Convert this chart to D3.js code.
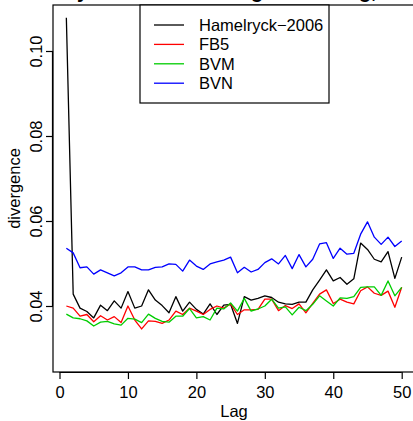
<!DOCTYPE html>
<html>
<head>
<meta charset="utf-8">
<script src="https://cdn.jsdelivr.net/npm/d3@7"></script>
<style>
body { margin: 0; background: #fff; }
svg { display: block; }
text { font-family: "Liberation Sans", Arial, Helvetica, sans-serif; }
</style>
</head>
<body>
<div id="chart"></div>
<script>
var lags = d3.range(1, 51);

var hamelryck = [0.1078, 0.0428, 0.0395, 0.0387, 0.0372, 0.0402, 0.0389, 0.0412, 0.0395, 0.0434,
    0.0395, 0.0400, 0.0438, 0.0414, 0.0401, 0.0384, 0.0422, 0.0388, 0.0409, 0.0392,
    0.0381, 0.0405, 0.0380, 0.0402, 0.0404, 0.0359, 0.0422, 0.0414, 0.0418, 0.0424,
    0.0420, 0.0409, 0.0405, 0.0404, 0.0409, 0.0409, 0.0438, 0.0461, 0.0485, 0.0459,
    0.0467, 0.0451, 0.0464, 0.0548, 0.0533, 0.0510, 0.0504, 0.0528, 0.0465, 0.0515];
var fb5 = [0.0400, 0.0395, 0.0376, 0.0380, 0.0363, 0.0377, 0.0367, 0.0375, 0.0361, 0.0400,
    0.0367, 0.0346, 0.0365, 0.0364, 0.0359, 0.0367, 0.0388, 0.0380, 0.0395, 0.0388,
    0.0380, 0.0392, 0.0400, 0.0395, 0.0405, 0.0380, 0.0391, 0.0391, 0.0392, 0.0416,
    0.0416, 0.0389, 0.0401, 0.0394, 0.0405, 0.0384, 0.0406, 0.0428, 0.0438, 0.0406,
    0.0416, 0.0409, 0.0405, 0.0436, 0.0445, 0.0430, 0.0425, 0.0435, 0.0397, 0.0444];
var bvm = [0.0381, 0.0372, 0.0370, 0.0365, 0.0353, 0.0362, 0.0364, 0.0358, 0.0355, 0.0371,
    0.0369, 0.0361, 0.0381, 0.0371, 0.0364, 0.0362, 0.0376, 0.0376, 0.0394, 0.0372,
    0.0375, 0.0367, 0.0395, 0.0393, 0.0407, 0.0388, 0.0418, 0.0388, 0.0393, 0.0400,
    0.0416, 0.0395, 0.0398, 0.0379, 0.0397, 0.0389, 0.0404, 0.0424, 0.0412, 0.0400,
    0.0419, 0.0418, 0.0422, 0.0444, 0.0445, 0.0445, 0.0425, 0.0459, 0.0424, 0.0444];
var bvn = [0.0536, 0.0525, 0.0490, 0.0492, 0.0475, 0.0485, 0.0478, 0.0471, 0.0478, 0.0492,
    0.0492, 0.0485, 0.0485, 0.0491, 0.0492, 0.0499, 0.0498, 0.0482, 0.0508, 0.0494,
    0.0486, 0.0499, 0.0504, 0.0508, 0.0515, 0.0478, 0.0491, 0.0480, 0.0486, 0.0502,
    0.0511, 0.0499, 0.0519, 0.0488, 0.0521, 0.0492, 0.0510, 0.0546, 0.0549, 0.0512,
    0.0536, 0.0522, 0.0524, 0.0569, 0.0598, 0.0562, 0.0545, 0.0562, 0.0540, 0.0553];

var seriesNames = ['Hamelryck\u22122006', 'FB5', 'BVM', 'BVN'];
var seriesColors = ['#000000', '#FF0000', '#00CD00', '#0000FF'];
var xTicks = [0, 10, 20, 30, 40, 50];
var yTicks = [0.04, 0.06, 0.08, 0.10];

const width = 413;
const height = 421;
const box = {left: 53, right: 415, top: 5, bottom: 372};
const fontSize = 16.5;

var xScale = d3.scaleLinear().domain([0, 50]).range([59.5, 401.7]);
var yScale = d3.scaleLinear().domain([0.04, 0.10]).range([306, 51]);

const svg = d3.select('#chart')
    .append('svg')
    .attr('width', width)
    .attr('height', height);

// title, mostly cut off at the top like the original
svg.append('text')
    .attr('x', (box.left + box.right) / 2)
    .attr('y', -2)
    .attr('text-anchor', 'middle')
    .style('font-weight', 'bold')
    .style('font-size', '20px')
    .text('Symmetric KL divergence vs lag, all');

var allSeries = [hamelryck, fb5, bvm, bvn];
var line = d3.line()
    .x((d, i) => xScale(lags[i]))
    .y(d => yScale(d));

// draw order: black, red, green, blue
allSeries.forEach(function(s, k){
    svg.append('path')
        .datum(s)
        .attr('d', line)
        .attr('fill', 'none')
        .attr('stroke', seriesColors[k])
        .attr('stroke-width', 1.3)
        .attr('stroke-linejoin', 'round');
});

// plot box
svg.append('rect')
    .attr('x', box.left)
    .attr('y', box.top)
    .attr('width', box.right - box.left)
    .attr('height', box.bottom - box.top)
    .attr('fill', 'none')
    .attr('stroke', '#000')
    .attr('stroke-width', 1.2);

// x axis
var xAxis = svg.append('g')
    .attr('transform', 'translate(0,' + box.bottom + ')')
    .call(d3.axisBottom(xScale).tickValues(xTicks).tickSize(7).tickPadding(4).tickFormat(d3.format('d')));
xAxis.select('.domain').attr('d', 'M' + xScale(0) + ',0.5H' + xScale(50)).attr('stroke-width', 1.2);
xAxis.selectAll('line').attr('stroke-width', 1.2);
xAxis.selectAll('text')
    .attr('font-size', fontSize)
    .attr('font-family', '"Liberation Sans", Arial, sans-serif')
    .attr('fill', '#000')
    .attr('dy', null)
    .attr('y', 26);

// y axis
var yAxis = svg.append('g')
    .attr('transform', 'translate(' + box.left + ',0)')
    .call(d3.axisLeft(yScale).tickValues(yTicks).tickSize(7).tickFormat(d3.format('.2f')));
yAxis.select('.domain').attr('d', 'M-0.5,' + yScale(0.04) + 'V' + yScale(0.10)).attr('stroke-width', 1.2);
yAxis.selectAll('line').attr('stroke-width', 1.2);
yAxis.selectAll('text')
    .attr('font-size', fontSize)
    .attr('font-family', '"Liberation Sans", Arial, sans-serif')
    .attr('fill', '#000')
    .attr('x', null)
    .attr('dy', null)
    .attr('text-anchor', 'middle')
    .attr('transform', 'translate(-11.5,0) rotate(-90)');

// axis titles
svg.append('text')
    .attr('x', (box.left + box.right) / 2)
    .attr('y', 417)
    .attr('text-anchor', 'middle')
    .style('font-size', fontSize + 'px')
    .text('Lag');

svg.append('text')
    .attr('transform', 'translate(20,' + ((box.top + box.bottom) / 2) + ') rotate(-90)')
    .attr('text-anchor', 'middle')
    .style('font-size', fontSize + 'px')
    .text('divergence');

// legend at top
var legend = svg.append('g');
legend.append('rect')
    .attr('x', 140)
    .attr('y', box.top)
    .attr('width', 189)
    .attr('height', 98)
    .attr('fill', '#fff')
    .attr('stroke', '#000')
    .attr('stroke-width', 1.2);

seriesNames.forEach(function(name, k){
    var cy = 25 + k * 19.4;
    legend.append('line')
        .attr('x1', 154).attr('x2', 184)
        .attr('y1', cy).attr('y2', cy)
        .attr('stroke', seriesColors[k])
        .attr('stroke-width', 1.3);
    legend.append('text')
        .attr('x', 199)
        .attr('y', cy + 6)
        .style('font-size', fontSize + 'px')
        .text(name);
});
</script>
</body>
</html>
